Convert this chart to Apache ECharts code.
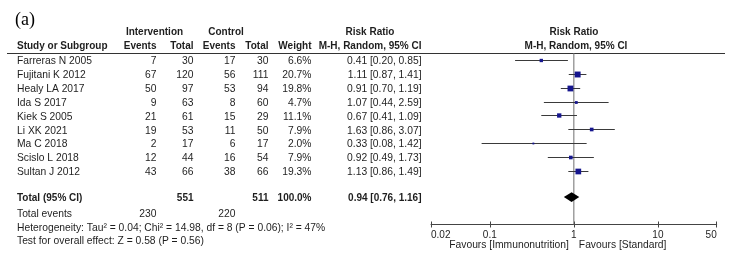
<!DOCTYPE html>
<html><head><meta charset="utf-8">
<script src="https://cdn.jsdelivr.net/npm/echarts@6/dist/echarts.min.js"></script>
<style>html,body{margin:0;padding:0;background:#fff}#c{width:735px;height:263px}</style>
</head><body><div id="c"></div>
<script>
// ---------- data ----------
const studies = ['Farreras N 2005','Fujitani K 2012','Healy LA 2017','Ida S 2017','Kiek S 2005','Li XK 2021','Ma C 2018','Scislo L 2018','Sultan J 2012'];
const intEvents = [7,67,50,9,21,19,2,12,43];
const intTotal = [30,120,97,63,61,53,17,44,66];
const ctrlEvents = [17,56,53,8,15,11,6,16,38];
const ctrlTotal = [30,111,94,60,29,50,17,54,66];
const weights = [6.6,20.7,19.8,4.7,11.1,7.9,2.0,7.9,19.3];
const rr = [0.41,1.11,0.91,1.07,0.67,1.63,0.33,0.92,1.13];
const rrLo = [0.20,0.87,0.70,0.44,0.41,0.86,0.08,0.49,0.86];
const rrHi = [0.85,1.41,1.19,2.59,1.09,3.07,1.42,1.73,1.49];
const totalIntEvents = 230, totalCtrlEvents = 220;
const totalIntN = 551, totalCtrlN = 511;
const totalWeight = '100.0%';
const totalRR = 0.94, totalLo = 0.76, totalHi = 1.16;
const nullValue = 1;
const axisTickVals = [0.02, 0.1, 1, 10, 50];
const axisTickLabels = ['0.02','0.1','1','10','50'];
const heterogeneity = 'Heterogeneity: Tau² = 0.04; Chi² = 14.98, df = 8 (P = 0.06); I² = 47%';
const overallTest = 'Test for overall effect: Z = 0.58 (P = 0.56)';
const favLeft = 'Favours [Immunonutrition]';
const favRight = 'Favours [Standard]';

// ---------- layout ----------
const FONT = '"Liberation Sans", Arial, sans-serif';
const TXT = '#1e1e1e';
const yMin = -0.505, yMax = 11.878, totalRow = 9.9;
const GRID = {left: 431, top: 53, width: 285.7, height: 171.5};
const fmt2 = v => v.toFixed(2);

const chart = echarts.init(document.getElementById('c'));

const logAxisBase = {
  type: 'log', logBase: 10, min: axisTickVals[0], max: axisTickVals[axisTickVals.length-1],
  splitLine: {show: false}, minorTick: {show: false}
};

const option = {
  animation: false,
  grid: [Object.assign({}, GRID), Object.assign({}, GRID)],
  xAxis: [Object.assign({}, logAxisBase, {
    gridIndex: 0, position: 'bottom',
    axisLine: {show: true, onZero: false, lineStyle: {color: '#444', width: 1}},
    axisTick: {inside: true, length: 3, lineStyle: {color: '#444'}},
    axisLabel: {
      fontSize: 10, color: TXT, fontFamily: FONT, margin: 6,
      showMinLabel: true, showMaxLabel: true,
      alignMinLabel: 'left', alignMaxLabel: 'right',
      formatter: v => {
        let best = 0;
        axisTickVals.forEach((t, i) => { if (Math.abs(Math.log(t) - Math.log(v)) < Math.abs(Math.log(axisTickVals[best]) - Math.log(v))) best = i; });
        return axisTickLabels[best];
      }
    }
  }), Object.assign({}, logAxisBase, {
    gridIndex: 1, position: 'bottom',
    axisLine: {show: false, onZero: false},
    axisTick: {inside: false, length: 3, lineStyle: {color: '#444'}},
    axisLabel: {show: false}
  })],
  yAxis: [
    {gridIndex: 0, type: 'value', inverse: true, min: yMin, max: yMax, show: false},
    {gridIndex: 1, type: 'value', inverse: true, min: yMin, max: yMax, show: false}
  ],
  series: [
    {
      type: 'line', silent: true, symbol: 'none', xAxisIndex: 0, yAxisIndex: 0,
      data: [[nullValue, yMin], [nullValue, yMax]],
      lineStyle: {color: '#6e6e6e', width: 1}, z: 1
    },
    {
      type: 'custom', silent: true, xAxisIndex: 0, yAxisIndex: 0, z: 3,
      data: studies.map((s, i) => [rr[i], i, rrLo[i], rrHi[i], weights[i]]),
      encode: {x: 0, y: 1},
      renderItem: (params, api) => {
        const y = api.value(1);
        const p = api.coord([api.value(0), y]);
        const a = api.coord([api.value(2), y]);
        const b = api.coord([api.value(3), y]);
        const py = Math.round(p[1]) + 0.5;
        const s = 1.3 * Math.sqrt(api.value(4));
        return {type: 'group', children: [
          {type: 'line', shape: {x1: a[0], y1: py, x2: b[0], y2: py}, style: {stroke: '#3a3a3a', lineWidth: 1}},
          {type: 'rect', shape: {x: p[0] - s/2, y: py - s/2, width: s, height: s}, style: {fill: '#16168e'}}
        ]};
      }
    },
    {
      type: 'custom', silent: true, xAxisIndex: 0, yAxisIndex: 0, z: 3,
      data: [[totalRR, totalRow, totalLo, totalHi]],
      encode: {x: 0, y: 1},
      renderItem: (params, api) => {
        const y = api.value(1);
        const p = api.coord([api.value(0), y]);
        const a = api.coord([api.value(2), y]);
        const b = api.coord([api.value(3), y]);
        const h = 4.8;
        return {type: 'polygon', shape: {points: [[a[0], p[1]], [p[0], p[1]-h], [b[0], p[1]], [p[0], p[1]+h]]}, style: {fill: '#000'}};
      }
    }
  ]
};
chart.setOption(option);

// ---------- table text ----------
function T(text, x, y, align, bold) {
  return {
    type: 'text', x: x, y: y, silent: true,
    style: {
      text: String(text), fill: TXT,
      font: (bold ? 'bold 10px ' : '10.3px ') + FONT,
      textAlign: align || 'left', textVerticalAlign: 'middle'
    }
  };
}
const rowY = i => chart.convertToPixel({gridIndex: 0}, [1, i])[1] + 1.5;
const C = {study: 17, ie: 156.5, it: 193.5, ce: 235.5, ct: 268.5, w: 311.5, ci: 421.5};
const g = [];
g.push({type: 'text', x: 15, y: 20, silent: true, style: {text: '(a)', fill: '#000', font: '18px "Liberation Serif", "Times New Roman", serif', textAlign: 'left', textVerticalAlign: 'middle'}});
// headers
const h1 = 32.5, h2 = 46;
g.push(T('Intervention', 154.5, h1, 'center', true));
g.push(T('Control', 226, h1, 'center', true));
g.push(T('Risk Ratio', 370, h1, 'center', true));
g.push(T('Risk Ratio', 574, h1, 'center', true));
g.push(T('Study or Subgroup', C.study, h2, 'left', true));
g.push(T('Events', C.ie, h2, 'right', true));
g.push(T('Total', C.it, h2, 'right', true));
g.push(T('Events', C.ce, h2, 'right', true));
g.push(T('Total', C.ct, h2, 'right', true));
g.push(T('Weight', C.w, h2, 'right', true));
g.push(T('M-H, Random, 95% CI', C.ci, h2, 'right', true));
g.push(T('M-H, Random, 95% CI', 576, h2, 'center', true));
g.push({type: 'line', silent: true, shape: {x1: 7, y1: 53.5, x2: 725, y2: 53.5}, style: {stroke: '#333', lineWidth: 1}});
// rows
studies.forEach((s, i) => {
  const y = rowY(i);
  g.push(T(s, C.study, y, 'left'));
  g.push(T(intEvents[i], C.ie, y, 'right'));
  g.push(T(intTotal[i], C.it, y, 'right'));
  g.push(T(ctrlEvents[i], C.ce, y, 'right'));
  g.push(T(ctrlTotal[i], C.ct, y, 'right'));
  g.push(T(weights[i].toFixed(1) + '%', C.w, y, 'right'));
  g.push(T(fmt2(rr[i]) + ' [' + fmt2(rrLo[i]) + ', ' + fmt2(rrHi[i]) + ']', C.ci, y, 'right'));
});
const ty = rowY(totalRow);
g.push(T('Total (95% CI)', C.study, ty, 'left', true));
g.push(T(totalIntN, C.it, ty, 'right', true));
g.push(T(totalCtrlN, C.ct, ty, 'right', true));
g.push(T(totalWeight, C.w, ty, 'right', true));
g.push(T(fmt2(totalRR) + ' [' + fmt2(totalLo) + ', ' + fmt2(totalHi) + ']', C.ci, ty, 'right', true));
g.push(T('Total events', C.study, 214.3, 'left'));
g.push(T(totalIntEvents, C.ie, 214.3, 'right'));
g.push(T(totalCtrlEvents, C.ce, 214.3, 'right'));
g.push(T(heterogeneity, C.study, 227.8, 'left'));
g.push(T(overallTest, C.study, 241.2, 'left'));
const x1 = chart.convertToPixel({gridIndex: 0}, [nullValue, 0])[0];
g.push(T(favLeft, x1 - 5, 245.5, 'right'));
g.push(T(favRight, x1 + 5, 245.5, 'left'));
chart.setOption({graphic: {elements: g}});
</script></body></html>
